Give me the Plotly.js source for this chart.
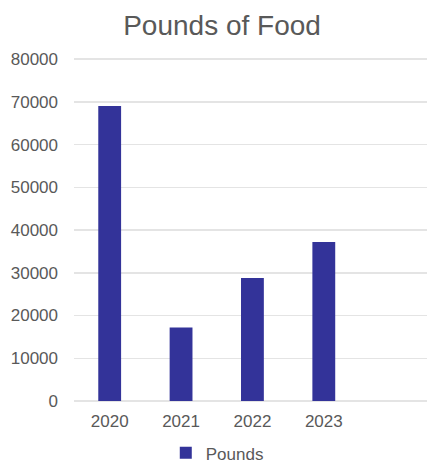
<!DOCTYPE html>
<html>
<head>
<meta charset="utf-8">
<script src="https://cdn.plot.ly/plotly-3.0.1.min.js"></script>
<style>
html,body{margin:0;padding:0;background:#fff;}
#chart{width:427px;height:463px;}
</style>
</head>
<body>
<div id="chart"></div>
<script>
const years = ['2020', '2021', '2022', '2023'];
const pounds = [69000, 17200, 28800, 37200];
const yTicks = [0, 10000, 20000, 30000, 40000, 50000, 60000, 70000, 80000];

const FONT = 'Liberation Sans, Arial, Helvetica, sans-serif';
const GREY = '#595959';

const trace = {
  type: 'bar',
  x: years,
  y: pounds,
  name: 'Pounds',
  width: 0.32,
  marker: {color: '#333399'},
  hoverinfo: 'none'
};

const layout = {
  width: 427,
  height: 463,
  margin: {l: 74, r: 0, t: 58, b: 62, autoexpand: false},
  paper_bgcolor: '#ffffff',
  plot_bgcolor: '#ffffff',
  font: {family: FONT, color: GREY, size: 17},
  title: {
    text: 'Pounds of Food',
    font: {family: FONT, size: 28, color: GREY},
    xref: 'container', x: 0.52, xanchor: 'center',
    yref: 'container', y: 1 - 25/463, yanchor: 'middle'
  },
  xaxis: {
    type: 'category',
    categoryorder: 'array',
    categoryarray: years,
    range: [-0.5, 4.446],
    showgrid: false,
    zeroline: false,
    showline: false,
    ticks: '',
    ticklabelstandoff: 8,
    automargin: false,
    tickfont: {family: FONT, size: 17, color: GREY},
    fixedrange: true
  },
  yaxis: {
    range: [0, 80250],
    tickmode: 'array',
    tickvals: yTicks,
    ticktext: yTicks.map(String),
    showgrid: true,
    gridcolor: '#e4e4e4',
    gridwidth: 1.5,
    zeroline: true,
    zerolinecolor: '#e4e4e4',
    zerolinewidth: 1.5,
    showline: false,
    ticks: '',
    ticklabelstandoff: 15,
    automargin: false,
    tickfont: {family: FONT, size: 17, color: GREY},
    fixedrange: true
  },
  showlegend: true,
  legend: {
    orientation: 'h',
    x: 0.26, xanchor: 'left',
    y: -0.205, yanchor: 'bottom',
    borderwidth: 0,
    font: {family: FONT, size: 17, color: GREY},
    bgcolor: 'rgba(0,0,0,0)'
  },
  bargap: 0.68
};

Plotly.newPlot('chart', [trace], layout, {displayModeBar: false, staticPlot: true});
</script>
</body>
</html>
